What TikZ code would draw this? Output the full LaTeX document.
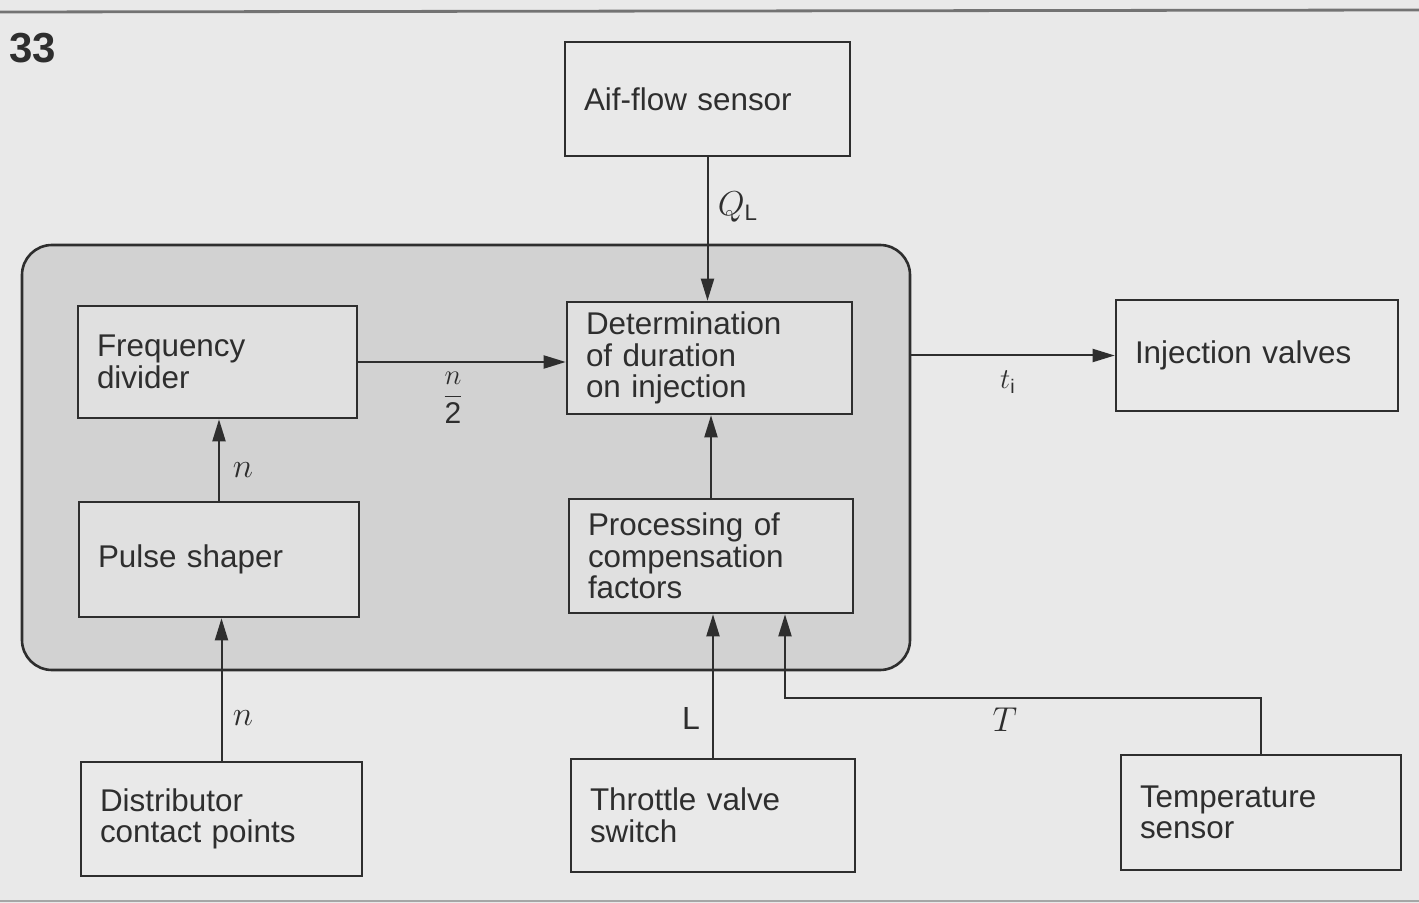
\documentclass[tikz,border=0pt]{standalone}
\usepackage{fontspec}
\setmainfont{Liberation Sans}
\usetikzlibrary{arrows.meta,calc}
\definecolor{bgc}{HTML}{E9E9E9}
\definecolor{framec}{HTML}{D2D2D2}
\definecolor{inboxc}{HTML}{E0E0E0}
\definecolor{linec}{HTML}{2E2E2E}
\tikzset{
  box/.style 2 args={draw=linec, line width=1.3pt, rectangle, fill=bgc,
    minimum width=#1*0.5pt, minimum height=#2*0.5pt, text width=#1*0.5pt-19pt,
    inner xsep=9.5pt, inner ysep=0pt, align=left, anchor=center,
    font=\fontsize{15.7}{15.75}\selectfont, text=linec},
  inbox/.style={fill=inboxc},
  arr/.style={draw=linec, line width=1pt, -{Triangle[length=11pt,width=6.5pt]}},
  lbl/.style={text=linec, inner sep=0pt, font=\fontsize{16}{16}\selectfont}
}
\begin{document}
\begin{tikzpicture}[x=0.5pt,y=-0.5pt]
\useasboundingbox (0,0) rectangle (1419,903);
\fill[bgc] (0,0) rectangle (1419,903);
\draw[line width=1.4pt, color=black!55] (0,12) -- (1419,10);
\draw[line width=0.8pt, color=black!35] (0,901) -- (1419,901);
\node[lbl, font=\fontsize{21}{21}\selectfont\bfseries, anchor=west] (num) at (9,48) {33};

\node[draw=linec, line width=1.3pt, fill=framec, rounded corners=15pt,
      minimum width=888*0.5pt, minimum height=425*0.5pt, inner sep=0pt] (frame) at (466,457.5) {};

\node[box={285}{114}] (air) at (707.5,99) {Aif-flow sensor};
\node[box={279}{112}, inbox] (freq) at (217.5,362) {Frequency\\divider};
\node[box={285}{112}, inbox] (det) at (709.5,358) {Determination\\of duration\\on injection};
\node[box={280}{115}, inbox] (pulse) at (219,559.5) {Pulse shaper};
\node[box={284}{114}, inbox] (proc) at (711,556) {Processing of\\compensation\\factors};
\node[box={282}{111}] (inj) at (1257,355.5) {Injection valves};
\node[box={281}{114}] (dist) at (221.5,819) {Distributor\\contact points};
\node[box={284}{113}] (thr) at (713,815.5) {Throttle valve\\switch};
\node[box={280}{115}] (temp) at (1261,812.5) {Temperature\\sensor};

\draw[arr] (air.south) -- (air.south |- det.north);
\draw[arr] (freq.east) -- (freq.east -| det.west);
\draw[arr] (frame.east |- inj.west) -- (inj.west);
\draw[arr] (pulse.north) -- (pulse.north |- freq.south);
\draw[arr] (proc.north) -- (proc.north |- det.south);
\draw[arr] (dist.north) -- (dist.north |- pulse.south);
\draw[arr] (thr.north) -- (thr.north |- proc.south);
\coordinate (tk) at (785,698);
\draw[arr] (temp.north) |- (tk) -- (tk |- proc.south);

\node[lbl] (lq) at (738,207) {$Q_{\mathrm{L}}$};
\node[lbl, font=\fontsize{15}{15}\selectfont] (ln2) at (453,398) {$\displaystyle\frac{n}{\textrm{2}}$};
\node[lbl, font=\fontsize{14}{14}\selectfont] (lt) at (1008,382) {$t_{\mathrm{i}}$};
\node[lbl] (ln1) at (243,470) {$n$};
\node[lbl] (ln0) at (243,718) {$n$};
\node[lbl] (ll) at (691,718) {L};
\node[lbl, font=\fontsize{17}{17}\selectfont] (lT) at (1005,720) {$T$};
\end{tikzpicture}
\end{document}
